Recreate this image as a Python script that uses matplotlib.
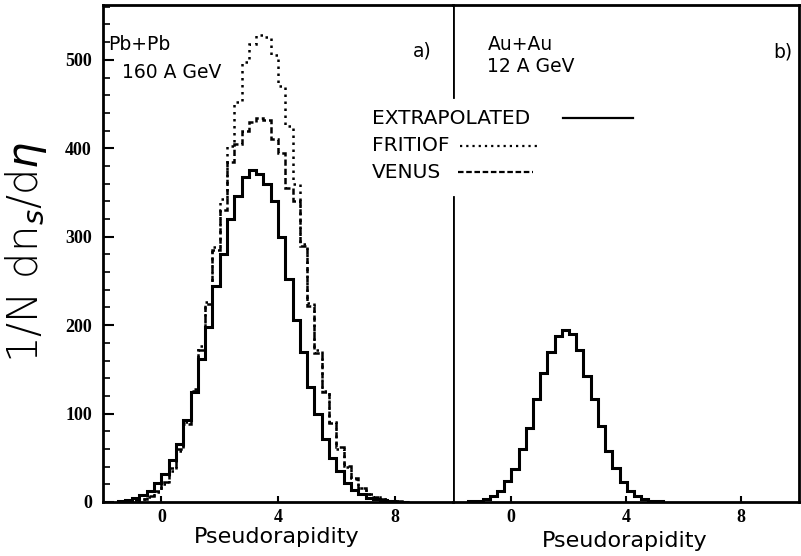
import numpy as np
import matplotlib.pyplot as plt
from matplotlib.lines import Line2D
from matplotlib.ticker import MultipleLocator

# Pb+Pb at 160 A GeV, bins of 0.25 in pseudorapidity (centres -1.375 ... 8.375)
pb_edges = np.arange(-1.5, 8.51, 0.25)
pb_extrapolated = [1.5, 2.7, 4.7, 8, 13, 21, 32, 47, 66, 93, 124, 162, 198, 244, 281, 320,
                   346, 368, 375, 371, 360, 340, 300, 252, 206, 170, 130, 100, 71, 50,
                   35, 22, 14, 9, 5, 3, 1.7, 0.9, 0.5, 0.2]
pb_fritiof = [0.3, 0.7, 1.5, 3, 6, 11, 20, 35, 58, 90, 128, 176, 226, 288, 343, 402,
              452, 497, 518, 528, 526, 505, 470, 425, 360, 292, 225, 172, 125, 90,
              60, 40, 26, 16, 9, 5.5, 3, 1.6, 0.8, 0.4]
pb_venus = [0.4, 0.8, 1.7, 3.5, 7, 13, 23, 38, 60, 88, 126, 172, 224, 285, 330, 385,
            405, 420, 430, 434, 432, 410, 395, 355, 340, 290, 222, 168, 124, 89,
            62, 41, 27, 16, 9.5, 5.5, 3, 1.6, 0.8, 0.4]

# Au+Au at 12 A GeV
au_edges = np.arange(-1.475, 5.3, 0.25)
au_extrapolated = [0.7, 1.6, 3.5, 7, 13, 24, 37, 60, 84, 116, 146, 170, 188, 195, 190,
                   172, 143, 116, 86, 58, 39, 23, 13, 7, 3.5, 1.6, 0.7]

legend_labels = ['EXTRAPOLATED', 'FRITIOF', 'VENUS']
x_ticks = [0, 4, 8]
y_ticks = [0, 100, 200, 300, 400, 500]

DOTTED = (0, (1, 1.8))
VENUS_LS = (0, (2.5, 1.2))

W, H = 801, 556
fig = plt.figure(figsize=(W / 100, H / 100), dpi=100)
axL = fig.add_axes([103 / W, 54 / H, 350 / W, 497 / H])
axR = fig.add_axes([453 / W, 54 / H, 346 / W, 497 / H])

tick_font = dict(family='Liberation Serif', weight='bold', size=13)
text_font = dict(family='DejaVu Sans', size=13.5)

for ax in (axL, axR):
    ax.set_xlim(-2, 10)
    ax.set_ylim(0, 562)
    for s in ax.spines.values():
        s.set_linewidth(2)
    ax.set_xticks(x_ticks)
    ax.set_xticklabels([str(t) for t in x_ticks], fontdict=tick_font)
    ax.tick_params(axis='x', direction='in', length=4, width=1.5, pad=5, top=False)

axL.spines['right'].set_visible(False)
axR.spines['left'].set_visible(False)

axL.set_yticks(y_ticks)
axL.set_yticklabels([str(t) for t in y_ticks], fontdict=tick_font)
axL.yaxis.set_minor_locator(MultipleLocator(20))
axL.tick_params(axis='y', which='major', direction='in', length=8, width=1.5, pad=8)
axL.tick_params(axis='y', which='minor', direction='in', length=5, width=1.2)
axR.set_yticks([])

# histograms
axL.stairs(pb_fritiof, pb_edges, color='black', lw=1.8, ls=DOTTED)
axL.stairs(pb_venus, pb_edges, color='black', lw=1.8, ls=VENUS_LS)
axL.stairs(pb_extrapolated, pb_edges, color='black', lw=2.2)
axR.stairs(au_extrapolated, au_edges, color='black', lw=2.2)

# divider between the panels, broken where the legend crosses it
axR.axvline(-2, ymin=0, ymax=345 / 562, color='black', lw=2)
axR.axvline(-2, ymin=458 / 562, ymax=1, color='black', lw=2)


def fpos(x, y):
    return x / W, 1 - y / H


fig.text(*fpos(108, 44), 'Pb+Pb', va='center', ha='left', **text_font)
fig.text(*fpos(122, 72), '160 A GeV', va='center', ha='left', **text_font)
fig.text(*fpos(413, 51), 'a)', va='center', ha='left', **text_font)
fig.text(*fpos(488, 44), 'Au+Au', va='center', ha='left', **text_font)
fig.text(*fpos(487, 67), '12 A GeV', va='center', ha='left', **text_font)
fig.text(*fpos(773, 52), 'b)', va='center', ha='left', **text_font)

# legend
legend_y = [118, 146, 172]
legend_x = [(563, 633), (460, 537), (458, 533)]
legend_ls = ['-', DOTTED, VENUS_LS]
for lab, y, (x0, x1), ls in zip(legend_labels, legend_y, legend_x, legend_ls):
    fig.text(*fpos(372, y), lab, va='center', ha='left', family='DejaVu Sans', size=14.5)
    (a0, b0), (a1, b1) = fpos(x0, y), fpos(x1, y)
    fig.add_artist(Line2D([a0, a1], [b0, b1], transform=fig.transFigure,
                          color='black', lw=1.6, ls=ls))

fig.text(*fpos(277, 537), 'Pseudorapidity', ha='center', va='center',
         family='DejaVu Sans', size=16)
fig.text(*fpos(625, 541), 'Pseudorapidity', ha='center', va='center',
         family='DejaVu Sans', size=16)
fig.text(*fpos(26, 252), r'1/N dn$_s$/d$\eta$', rotation=90, ha='center', va='center',
         family='DejaVu Sans', size=30, weight='light')

fig.savefig('out.png', dpi=100)
